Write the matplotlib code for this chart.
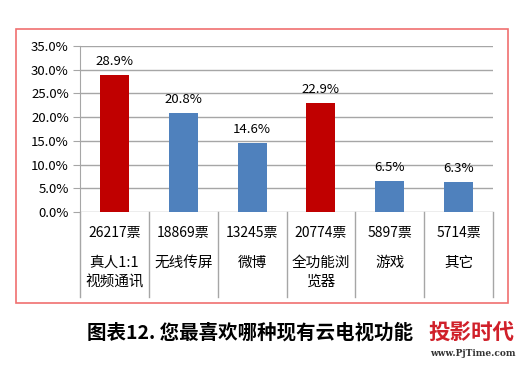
import numpy as np
import matplotlib.pyplot as plt
import matplotlib.transforms as mtransforms
from matplotlib.patches import Rectangle

plt.rcParams['font.family'] = ['Noto Sans CJK SC', 'DejaVu Sans']

categories = ['真人1:1\n视频通讯', '无线传屏', '微博', '全功能浏\n览器', '游戏', '其它']
votes = ['26217票', '18869票', '13245票', '20774票', '5897票', '5714票']
shares = [28.9, 20.8, 14.6, 22.9, 6.5, 6.3]
highlight = [True, False, False, True, False, False]

red = '#C00000'
blue = '#4F81BD'
grid = '#A6A6A6'

fig = plt.figure(figsize=(5.23, 3.65), dpi=100)
fig.patches.append(Rectangle((16 / 523, 1 - 303 / 365), 492 / 523, 274 / 365,
                             transform=fig.transFigure, fill=False,
                             edgecolor='#F07070', linewidth=1.2))

ax = fig.add_axes([80 / 523, 1 - 212 / 365, 413 / 523, 166 / 365])
x = np.arange(len(categories))
colors = [red if h else blue for h in highlight]
ax.bar(x, np.array(shares) / 100, width=0.42, color=colors, zorder=3)

ax.set_xlim(-0.5, len(categories) - 0.5)
ax.set_ylim(0, 0.35)
yt = np.arange(0, 0.351, 0.05)
ax.set_yticks(yt)
ax.set_yticklabels(['%.1f%%' % (v * 100) for v in yt], fontsize=9.5)
ax.tick_params(axis='y', length=5, color=grid, pad=3)
ax.set_xticks([])
ax.yaxis.grid(True, color=grid, linewidth=1, zorder=0)
for s in ['top', 'right', 'bottom']:
    ax.spines[s].set_visible(False)
ax.spines['left'].set_color(grid)

for xi, v in zip(x, shares):
    ax.annotate('%.1f%%' % v, (xi, v / 100), xytext=(0, 5), textcoords='offset points',
                ha='center', va='bottom', fontsize=9.5)

# table under the axis
trans = mtransforms.blended_transform_factory(ax.transData, ax.transAxes)
bottom = -85 / 166
for b in np.arange(-0.5, len(categories), 1.0):
    ax.plot([b, b], [0, bottom], transform=trans, color=grid, linewidth=1, clip_on=False)
for xi, vt, cat in zip(x, votes, categories):
    ax.text(xi, -21 / 166, vt, transform=trans, ha='center', va='center', fontsize=10)
    ax.text(xi, -44 / 166, cat, transform=trans, ha='center', va='top', fontsize=10.5,
            linespacing=1.45)

fig.text(87 / 523, 1 - 333 / 365, '图表12. 您最喜欢哪种现有云电视功能', ha='left', va='center',
         fontsize=14, fontweight='bold')
fig.text(428 / 523, 1 - 332 / 365, '投影时代', ha='left', va='center',
         fontsize=15.5, fontweight='bold', color='#D0202A',
         bbox=dict(facecolor='white', edgecolor='none', pad=1))
fig.text(430 / 523, 1 - 354 / 365, 'www.PjTime.com', ha='left', va='center',
         fontsize=6.5, fontweight='bold', color='#333333', family=['DejaVu Serif'])

fig.savefig('out.png', dpi=100)
